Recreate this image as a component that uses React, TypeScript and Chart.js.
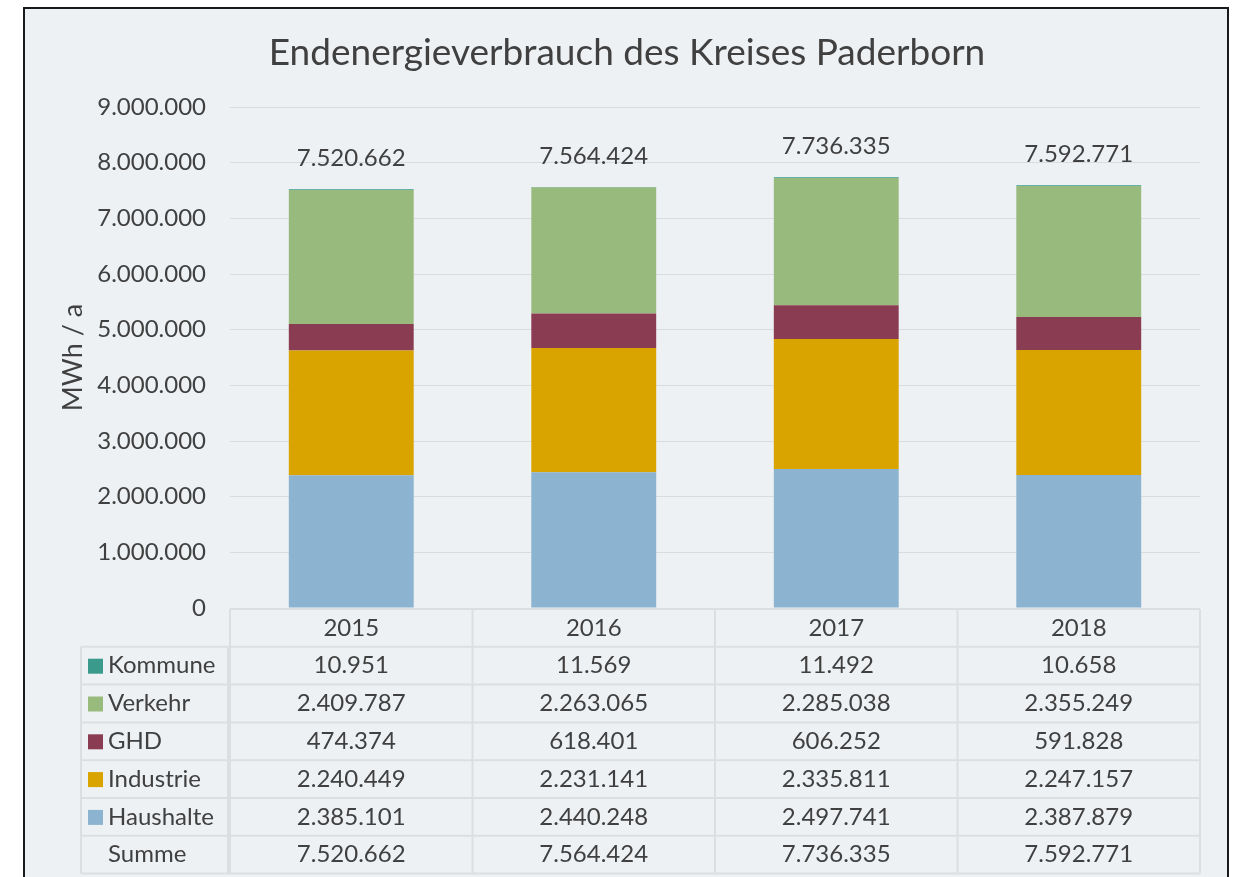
import React, { useEffect, useRef } from 'react';
import { Chart, registerables } from 'chart.js';

Chart.register(...registerables);

const years = ['2015', '2016', '2017', '2018'];
const haushalte = [2385101, 2440248, 2497741, 2387879];
const industrie = [2240449, 2231141, 2335811, 2247157];
const ghd = [474374, 618401, 606252, 591828];
const verkehr = [2409787, 2263065, 2285038, 2355249];
const kommune = [10951, 11569, 11492, 10658];
const summe = [7520662, 7564424, 7736335, 7592771];

const TITLE = 'Endenergieverbrauch des Kreises Paderborn';
const Y_TITLE = 'MWh / a';
const SUM_LABEL = 'Summe';

const FONT = 'Lato';
const TEXT = '#404040';
const BG = '#EEF1F4';

const COLORS = {
  Haushalte: '#8CB3CF',
  Industrie: '#D9A300',
  GHD: '#8A3D52',
  Verkehr: '#98BA7C',
  Kommune: '#3A9B8C',
};

const fmt = (n: number) => String(Math.round(n)).replace(/\B(?=(\d{3})+(?!\d))/g, '.');

// stacking order bottom -> top
const stackSeries = [
  { label: 'Haushalte', data: haushalte },
  { label: 'Industrie', data: industrie },
  { label: 'GHD', data: ghd },
  { label: 'Verkehr', data: verkehr },
  { label: 'Kommune', data: kommune },
];
// table order top -> bottom
const tableSeries = [...stackSeries].reverse();

const overlayPlugin = {
  id: 'overlay',
  afterDraw(chart: any) {
    const ctx = chart.ctx as CanvasRenderingContext2D;
    const xs = chart.scales.x;
    const ys = chart.scales.y;
    const area = chart.chartArea;
    ctx.save();

    // title
    ctx.fillStyle = TEXT;
    ctx.font = `37px ${FONT}`;
    ctx.textAlign = 'center';
    ctx.textBaseline = 'middle';
    ctx.fillText(TITLE, 627, 53);

    // totals above bars
    ctx.font = `24px ${FONT}`;
    summe.forEach((t, i) => {
      ctx.fillText(fmt(t), xs.getPixelForValue(i), ys.getPixelForValue(t) - 31);
    });

    // data table
    const n = years.length;
    const bounds: number[] = [area.left];
    for (let i = 1; i < n; i++) {
      bounds.push((xs.getPixelForValue(i - 1) + xs.getPixelForValue(i)) / 2);
    }
    bounds.push(area.right);
    const top = area.bottom + 1;
    const rowH = 37.8;
    const labelLeft = 81;
    const labelRight = 228;
    const rows = tableSeries.length + 1;
    const bottom = top + rowH * (rows + 1);

    ctx.strokeStyle = '#DCDFE2';
    ctx.lineWidth = 2;
    ctx.beginPath();
    ctx.moveTo(area.left, top);
    ctx.lineTo(area.right, top);
    for (let k = 1; k <= rows + 1; k++) {
      const y = top + rowH * k;
      ctx.moveTo(labelLeft, y);
      ctx.lineTo(area.right, y);
    }
    ctx.moveTo(labelLeft, top + rowH);
    ctx.lineTo(labelLeft, bottom);
    ctx.moveTo(labelRight, top + rowH);
    ctx.lineTo(labelRight, bottom);
    bounds.forEach((b) => {
      ctx.moveTo(b, top);
      ctx.lineTo(b, bottom);
    });
    ctx.stroke();

    ctx.fillStyle = TEXT;
    ctx.font = `24px ${FONT}`;
    ctx.textBaseline = 'middle';
    ctx.textAlign = 'center';
    years.forEach((y, i) => {
      ctx.fillText(y, xs.getPixelForValue(i), top + rowH / 2);
    });

    tableSeries.forEach((s, r) => {
      const cy = top + rowH * (r + 1) + rowH / 2;
      ctx.fillStyle = (COLORS as any)[s.label];
      ctx.fillRect(88, cy - 7, 15, 15);
      ctx.fillStyle = TEXT;
      ctx.textAlign = 'left';
      ctx.fillText(s.label, 108, cy);
      ctx.textAlign = 'center';
      s.data.forEach((v, i) => ctx.fillText(fmt(v), xs.getPixelForValue(i), cy));
    });
    const cyS = top + rowH * rows + rowH / 2;
    ctx.textAlign = 'left';
    ctx.fillText(SUM_LABEL, 108, cyS);
    ctx.textAlign = 'center';
    summe.forEach((t, i) => ctx.fillText(fmt(t), xs.getPixelForValue(i), cyS));

    ctx.restore();
  },
};

export default function App() {
  const ref = useRef<HTMLCanvasElement>(null);
  useEffect(() => {
    document.body.style.margin = '0';
    Chart.defaults.font.family = FONT;
    const chart = new Chart(ref.current!, {
      type: 'bar',
      data: {
        labels: years,
        datasets: stackSeries.map((s) => ({
          label: s.label,
          data: s.data,
          backgroundColor: (COLORS as any)[s.label],
          borderWidth: 0,
          barPercentage: 0.515,
          categoryPercentage: 1,
        })),
      },
      options: {
        responsive: false,
        animation: false,
        layout: { padding: { top: 107, bottom: 269, left: 0, right: 33 } },
        plugins: {
          legend: { display: false },
          title: { display: false },
          tooltip: { enabled: false },
        },
        scales: {
          x: { display: false, stacked: true },
          y: {
            stacked: true,
            min: 0,
            max: 9000000,
            afterFit: (s: any) => {
              s.width = 230;
            },
            ticks: {
              stepSize: 1000000,
              padding: 24,
              color: TEXT,
              font: { size: 24, family: FONT },
              callback: (v: any) => fmt(Number(v)),
            },
            grid: { color: '#D9DCDF', lineWidth: 1, drawTicks: false },
            border: { display: false },
            title: {
              display: true,
              text: Y_TITLE,
              color: TEXT,
              font: { size: 27, family: FONT },
              padding: { top: 57, bottom: 0 },
            },
          },
        },
      },
      plugins: [overlayPlugin],
    });
    return () => chart.destroy();
  }, []);

  return (
    <div style={{ position: 'relative', width: 1233, height: 877, overflow: 'hidden', background: '#fff' }}>
      <div
        style={{
          position: 'absolute',
          left: 23,
          top: 7,
          width: 1202,
          height: 1000,
          border: '2px solid #1a1a1a',
          background: BG,
        }}
      />
      <canvas ref={ref} width={1233} height={877} style={{ position: 'absolute', left: 0, top: 0 }} />
    </div>
  );
}
